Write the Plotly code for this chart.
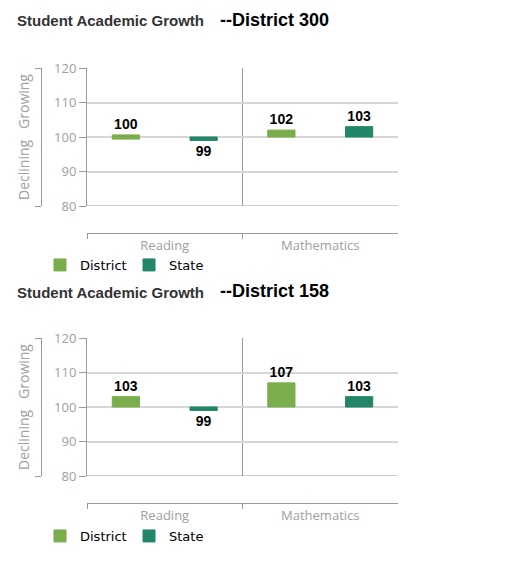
import plotly.graph_objects as go

# page body adds an 8px margin, so the figure is sized to fit inside the window
PAGE_MARGIN = 8
W, H = 530 - PAGE_MARGIN, 561 - PAGE_MARGIN

subjects = ["Reading", "Mathematics"]
series_names = ["District", "State"]
series_colors = ["#7aad4b", "#238669"]

district_names = ["District 300", "District 158"]
district_300 = [100, 102]
state_300 = [99, 103]
district_158 = [103, 107]
state_158 = [99, 103]
panels = [(district_300, state_300), (district_158, state_158)]

y_ticks = [80, 90, 100, 110, 120]
baseline = 100
min_len = 1.2  # smallest visible bar, in axis units (like a minPointLength)

GRAY = "#a0a0a0"
LINE = "#9a9a9a"


# window pixel -> paper fraction
def px_x(p):
    return (p - PAGE_MARGIN) / W


def px_y(p):
    return 1 - (p - PAGE_MARGIN) / H


def bar_geom(vals):
    lengths, bases = [], []
    for v in vals:
        d = v - baseline
        if abs(d) < min_len / 2:
            lengths.append(min_len)
            bases.append(baseline - min_len / 2)
        else:
            lengths.append(d)
            bases.append(baseline)
    return lengths, bases


# pixel layout of each panel: (title y, plot top, plot bottom, category axis y, legend y)
panel_px = [(21, 68, 206, 233, 265), (292, 338, 476, 503, 536)]

fig = go.Figure()
annotations = []
shapes = []

for i, ((dist_vals, state_vals), name, (ty, top, bot, cat_y, leg_y)) in enumerate(
        zip(panels, district_names, panel_px)):
    n = i + 1
    xa = "x" if n == 1 else f"x{n}"
    ya = "y" if n == 1 else f"y{n}"
    yb = f"y{n + 2}"
    legend = "legend" if n == 1 else f"legend{n}"

    for sname, color, vals in zip(series_names, series_colors, [dist_vals, state_vals]):
        lengths, bases = bar_geom(vals)
        fig.add_trace(go.Bar(
            x=subjects,
            y=lengths,
            base=bases,
            name=sname,
            marker=dict(color=color, line=dict(color=color, width=1)),
            text=[str(v) for v in vals],
            textposition="outside",
            textfont=dict(family="Liberation Sans", size=14, color="black", weight="bold"),
            cliponaxis=False,
            xaxis=xa, yaxis=ya, legend=legend,
        ))
    # carrier for the bracket axis
    fig.add_trace(go.Scatter(x=[None], y=[None], xaxis=xa, yaxis=yb,
                             showlegend=False, hoverinfo="skip"))

    dom = [px_y(bot), px_y(top)]
    fig.layout[f"xaxis{'' if n == 1 else n}"] = dict(
        domain=[px_x(87), px_x(398)],
        anchor="free", position=px_y(cat_y),
        type="category", range=[-0.5, 1.5],
        showline=True, linecolor=LINE, linewidth=1,
        ticks="outside", tickson="boundaries", ticklen=5, tickcolor=LINE,
        tickfont=dict(family="Open Sans", size=13, color=GRAY),
        showgrid=False, zeroline=False, automargin=False,
    )
    fig.layout[f"yaxis{'' if n == 1 else n}"] = dict(
        domain=dom, anchor=xa, range=[80, 120], tickvals=y_ticks,
        showgrid=True, gridcolor="#d6d6d6", gridwidth=2,
        showline=True, linecolor=LINE, linewidth=1,
        ticks="outside", ticklen=7, tickcolor=LINE,
        tickfont=dict(family="Open Sans", size=13, color=GRAY),
        zeroline=False, automargin=False,
    )
    fig.layout[f"yaxis{n + 2}"] = dict(
        overlaying=ya, anchor="free", position=px_x(41), side="left",
        range=[80, 120], tickvals=[80, 120], showticklabels=False,
        ticks="outside", ticklen=6, tickcolor=LINE,
        showline=True, linecolor=LINE, linewidth=1,
        showgrid=False, zeroline=False, automargin=False,
        title=dict(text="Declining\u00a0\u00a0\u00a0Growing", standoff=1,
                   font=dict(family="Open Sans", size=14, color=GRAY)),
    )
    fig.layout[legend] = dict(
        orientation="h", x=px_x(40), xanchor="left",
        y=px_y(leg_y), yanchor="middle",
        entrywidth=44, entrywidthmode="pixels",
        font=dict(family="DejaVu Sans", size=13, color="black"),
        bgcolor="rgba(0,0,0,0)",
    )

    # baseline at 100 and bottom line at 80
    for yv in (baseline, 80):
        shapes.append(dict(type="line", xref=f"{xa} domain", yref=ya,
                           x0=0, x1=1, y0=yv, y1=yv,
                           line=dict(color=LINE, width=1), layer="below"))
    # divider between subjects
    shapes.append(dict(type="line", xref=xa, yref=f"{ya} domain",
                       x0=0.5, x1=0.5, y0=0, y1=1,
                       line=dict(color=LINE, width=1), layer="below"))

    annotations.append(dict(text="<b>Student Academic Growth</b>", xref="paper", yref="paper",
                            x=px_x(15), y=px_y(ty), xanchor="left", yanchor="middle",
                            showarrow=False,
                            font=dict(family="Liberation Sans", size=15, color="#333333")))
    annotations.append(dict(text=f"<b>--{name}</b>", xref="paper", yref="paper",
                            x=px_x(218), y=px_y(ty - 1), xanchor="left", yanchor="middle",
                            showarrow=False,
                            font=dict(family="Liberation Sans", size=18, color="black")))

fig.update_layout(
    width=W, height=H,
    margin=dict(l=0, r=0, t=0, b=0),
    paper_bgcolor="white", plot_bgcolor="white",
    barmode="group", bargap=0, bargroupgap=0.65,
    shapes=shapes, annotations=annotations,
)

fig.write_html("out.html")
